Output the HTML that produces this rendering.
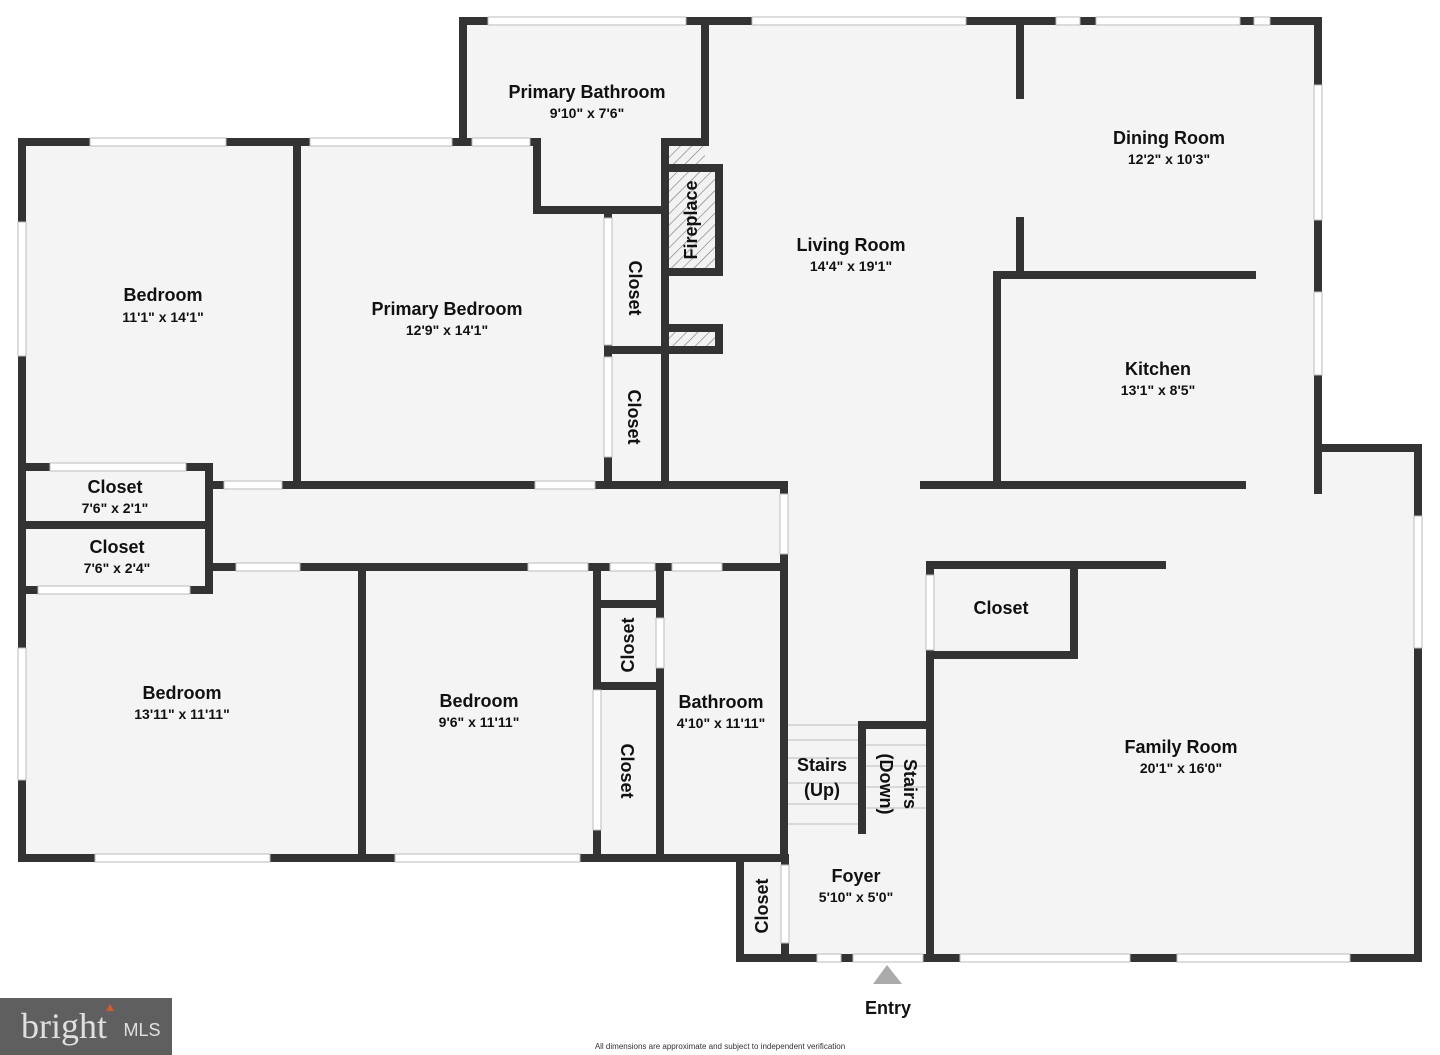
<!DOCTYPE html>
<html><head><meta charset="utf-8"><style>
html,body{margin:0;padding:0;background:#fff;}
svg{display:block}
text{font-family:"Liberation Sans",sans-serif;fill:#111;text-anchor:middle}
.n{font-size:18px;font-weight:bold}
.d{font-size:14px;font-weight:bold}
</style></head><body>
<svg width="1440" height="1055" viewBox="0 0 1440 1055" xmlns="http://www.w3.org/2000/svg">
<defs>
<pattern id="h" width="8" height="8" patternUnits="userSpaceOnUse" patternTransform="rotate(45)">
<rect width="8" height="8" fill="#f2f2f2"/><line x1="0" y1="0" x2="0" y2="8" stroke="#777" stroke-width="1.2"/></pattern>
</defs>
<g fill="#f4f4f4">
<rect x="22" y="142" width="762" height="716"/>
<rect x="463" y="21" width="855" height="469"/>
<rect x="784" y="485" width="146" height="473"/>
<rect x="740" y="858" width="190" height="100"/>
<rect x="930" y="448" width="488" height="510"/>
</g>
<g stroke="#bbb" stroke-width="1">
<line x1="787" y1="740" x2="860" y2="740"/><line x1="787" y1="758" x2="860" y2="758"/><line x1="787" y1="783" x2="860" y2="783"/><line x1="787" y1="804" x2="860" y2="804"/><line x1="787" y1="824" x2="860" y2="824"/>
<line x1="866" y1="745" x2="928" y2="745"/><line x1="866" y1="766" x2="928" y2="766"/><line x1="866" y1="787" x2="928" y2="787"/><line x1="866" y1="808" x2="928" y2="808"/>
<line x1="787" y1="725" x2="862" y2="725"/>
</g>
<rect x="665" y="142" width="40" height="26" fill="url(#h)"/>
<rect x="665" y="168" width="54" height="104" fill="url(#h)"/>
<rect x="665" y="328" width="54" height="22" fill="url(#h)"/>
<g stroke="#333" stroke-width="8" fill="none" stroke-linecap="square">
<path d="M463 21H1318V490"/>
<path d="M463 21V142H22V858H784V485H665V142H705V21"/>
<path d="M463 142H537"/>
<path d="M209 485H665"/>
<path d="M1318 448H1418V958H740V858"/>
<path d="M537 142V210H665"/>
<path d="M665 168H719V272H665"/>
<path d="M665 328H719V350H665"/>
<path d="M608 210V485"/><path d="M608 350H665"/>
<path d="M297 142V485"/>
<path d="M22 467H209V590H22"/><path d="M22 525H209"/>
<path d="M209 567H784"/>
<path d="M362 567V858"/><path d="M597 567V858"/><path d="M660 567V858"/>
<path d="M597 604H660"/><path d="M597 686H660"/>
<path d="M785 858V958"/>
<path d="M930 565V958"/>
<path d="M862 830V725H930"/>
<path d="M930 565H1162"/><path d="M1074 565V655H930"/>
<path d="M924 485H1242"/><path d="M997 485V275H1252"/>
<path d="M1020 21V95"/><path d="M1020 221V275"/>
</g>
<g fill="#fff" stroke="#bbb" stroke-width="1">
<rect x="488" y="17" width="198" height="8"/>
<rect x="752" y="17" width="214" height="8"/>
<rect x="1096" y="17" width="144" height="8"/>
<rect x="1056" y="17" width="24" height="8"/><rect x="1254" y="17" width="16" height="8"/>
<rect x="1314" y="85" width="8" height="135"/>
<rect x="1314" y="292" width="8" height="83"/>
<rect x="90" y="138" width="136" height="8"/>
<rect x="310" y="138" width="142" height="8"/>
<rect x="472" y="138" width="58" height="8"/>
<rect x="18" y="222" width="8" height="134"/>
<rect x="18" y="648" width="8" height="132"/>
<rect x="95" y="854" width="175" height="8"/>
<rect x="395" y="854" width="185" height="8"/>
<rect x="50" y="463" width="136" height="8"/>
<rect x="38" y="586" width="152" height="8"/>
<rect x="224" y="481" width="58" height="8"/>
<rect x="535" y="481" width="60" height="8"/>
<rect x="236" y="563" width="64" height="8"/>
<rect x="528" y="563" width="60" height="8"/>
<rect x="610" y="563" width="45" height="8"/>
<rect x="672" y="563" width="50" height="8"/>
<rect x="604" y="218" width="8" height="127"/>
<rect x="604" y="357" width="8" height="100"/>
<rect x="593" y="690" width="8" height="140"/>
<rect x="656" y="618" width="8" height="50"/>
<rect x="780" y="494" width="8" height="60"/>
<rect x="781" y="865" width="8" height="78"/>
<rect x="926" y="575" width="8" height="75"/>
<rect x="1414" y="516" width="8" height="132"/>
<rect x="853" y="954" width="70" height="8"/>
<rect x="817" y="954" width="24" height="8"/>
<rect x="960" y="954" width="170" height="8"/>
<rect x="1177" y="954" width="173" height="8"/>
</g>
<text class="n" x="587" y="98">Primary Bathroom</text><text class="d" x="587" y="118">9'10" x 7'6"</text>
<text class="n" x="1169" y="144">Dining Room</text><text class="d" x="1169" y="164">12'2" x 10'3"</text>
<text class="n" x="851" y="251">Living Room</text><text class="d" x="851" y="271">14'4" x 19'1"</text>
<text class="n" x="163" y="301">Bedroom</text><text class="d" x="163" y="322">11'1" x 14'1"</text>
<text class="n" x="447" y="315">Primary Bedroom</text><text class="d" x="447" y="335">12'9" x 14'1"</text>
<text class="n" x="1158" y="375">Kitchen</text><text class="d" x="1158" y="395">13'1" x 8'5"</text>
<text class="n" x="115" y="493">Closet</text><text class="d" x="115" y="513">7'6" x 2'1"</text>
<text class="n" x="117" y="553">Closet</text><text class="d" x="117" y="573">7'6" x 2'4"</text>
<text class="n" x="1001" y="614">Closet</text>
<text class="n" x="182" y="699">Bedroom</text><text class="d" x="182" y="719">13'11" x 11'11"</text>
<text class="n" x="479" y="707">Bedroom</text><text class="d" x="479" y="727">9'6" x 11'11"</text>
<text class="n" x="721" y="708">Bathroom</text><text class="d" x="721" y="728">4'10" x 11'11"</text>
<text class="n" x="1181" y="753">Family Room</text><text class="d" x="1181" y="773">20'1" x 16'0"</text>
<text class="n" x="822" y="771">Stairs</text><text class="n" x="822" y="796">(Up)</text>
<text class="n" x="856" y="882">Foyer</text><text class="d" x="856" y="902">5'10" x 5'0"</text>
<text class="n" transform="translate(697,220) rotate(-90)">Fireplace</text>
<text class="n" transform="translate(629,288) rotate(90)">Closet</text>
<text class="n" transform="translate(628,417) rotate(90)">Closet</text>
<text class="n" transform="translate(634,645) rotate(-90)">Closet</text>
<text class="n" transform="translate(621,771) rotate(90)">Closet</text>
<text class="n" transform="translate(768,906) rotate(-90)">Closet</text>
<text class="n" transform="translate(904,784) rotate(90)">Stairs</text>
<text class="n" transform="translate(880,784) rotate(90)">(Down)</text>
<polygon points="873,984 887,965 902,984" fill="#aaa"/>
<text class="n" x="888" y="1014">Entry</text>
<text x="720" y="1049" style="font-size:8px;fill:#333">All dimensions are approximate and subject to independent verification</text>
<rect x="0" y="998" width="172" height="57" fill="#5f5f5f"/>
<text x="64" y="1038" style="font-family:'Liberation Serif',serif;font-size:36px;fill:#e0e0e0">bright</text>
<text x="142" y="1036" style="font-size:18px;fill:#e0e0e0">MLS</text>
<polygon points="106,1011 110,1004 114,1011" fill="#d35a2a"/>
</svg>
</body></html>
